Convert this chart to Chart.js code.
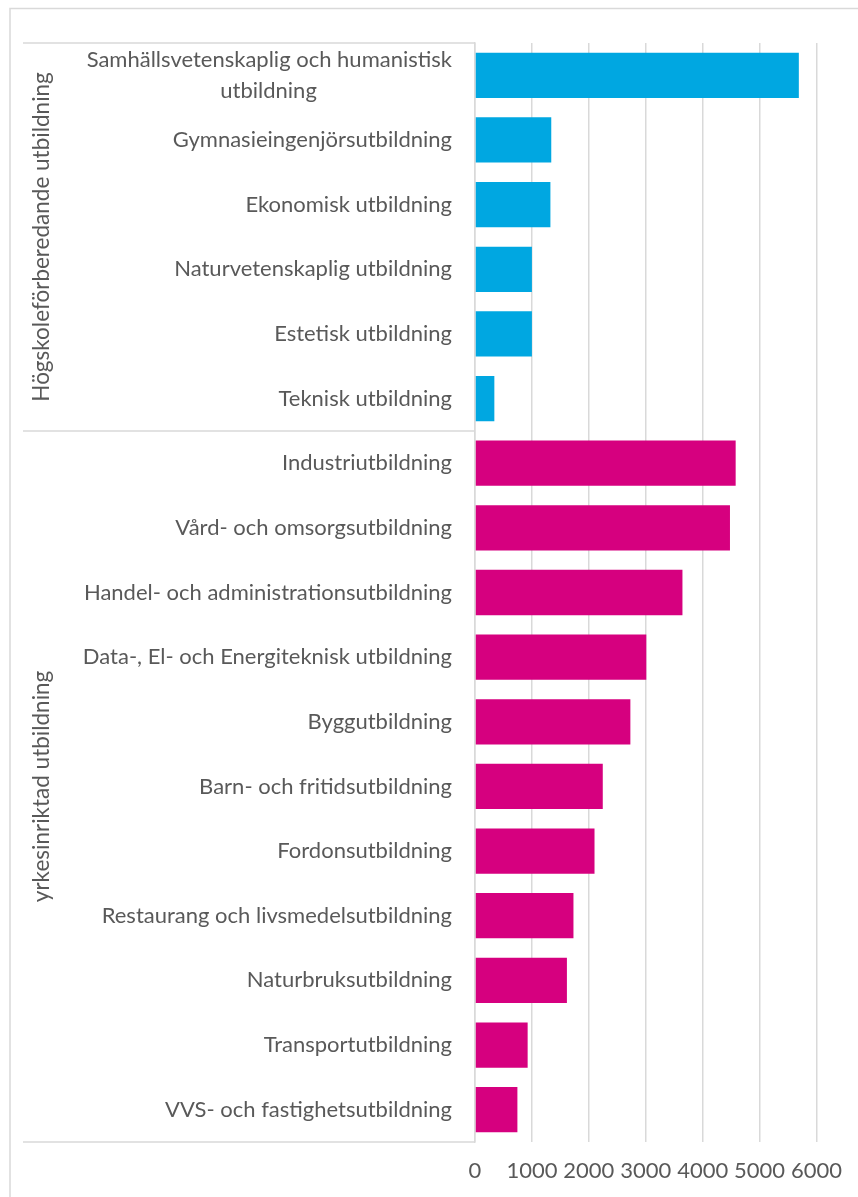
<!DOCTYPE html>
<html>
<head>
<meta charset="utf-8">
<script src="https://cdn.jsdelivr.net/npm/chart.js@4"></script>
<style>
  html, body { margin: 0; padding: 0; background: #fff; }
  #wrap { width: 858px; height: 1197px; position: relative; }
</style>
</head>
<body>
<div id="wrap"><canvas id="chart"></canvas></div>
<script>
// categories, top to bottom
const categories = [
  ['Samhällsvetenskaplig och humanistisk', 'utbildning'],
  'Gymnasieingenjörsutbildning',
  'Ekonomisk utbildning',
  'Naturvetenskaplig utbildning',
  'Estetisk utbildning',
  'Teknisk utbildning',
  'Industriutbildning',
  'Vård- och omsorgsutbildning',
  'Handel- och administrationsutbildning',
  'Data-, El- och Energiteknisk utbildning',
  'Byggutbildning',
  'Barn- och fritidsutbildning',
  'Fordonsutbildning',
  'Restaurang och livsmedelsutbildning',
  'Naturbruksutbildning',
  'Transportutbildning',
  'VVS- och fastighetsutbildning',
];

const values = [5690, 1340, 1325, 1000, 1000, 340, 4580, 4480, 3645, 3010, 2730, 2245, 2100, 1730, 1615, 925, 745];

// group name and how many categories it spans (in order)
const groupNames = ['Högskoleförberedande utbildning', 'yrkesinriktad utbildning'];
const groupSizes = [6, 11];
const groupColors = ['#00A7E1', '#D6007F'];

const xTicks = [0, 1000, 2000, 3000, 4000, 5000, 6000];

const TEXT = '#595959';
const LINE = '#d9d9d9';
const FONT = 'Lato, "Open Sans", sans-serif';
const LABEL_SIZE = 22;

const barColors = [];
groupSizes.forEach((n, g) => { for (let i = 0; i < n; i++) barColors.push(groupColors[g]); });

// multi-line labels: pad shorter lines so they sit centred under the widest one
const _measure = document.createElement('canvas').getContext('2d');
function centreLines(label) {
  if (!Array.isArray(label)) return label;
  _measure.font = LABEL_SIZE + 'px ' + FONT;
  const widths = label.map(s => _measure.measureText(s).width);
  const widest = Math.max(...widths);
  const sp = _measure.measureText(' ').width;
  return label.map((s, i) => s + ' '.repeat(Math.round((widest - widths[i]) / 2 / sp)));
}

// outer frame + multi-level category axis (group lines and rotated group names)
const groupAxis = {
  id: 'groupAxis',
  beforeDraw(chart) {
    const { ctx } = chart;
    ctx.save();
    ctx.strokeStyle = LINE;
    ctx.lineWidth = 1.5;
    ctx.beginPath();
    ctx.moveTo(10, 1197); ctx.lineTo(10, 8.5); ctx.lineTo(858, 8.5);
    ctx.stroke();
    ctx.restore();
  },
  afterDraw(chart) {
    const { ctx, chartArea } = chart;
    const y = chart.scales.y;
    const left = 23;
    ctx.save();
    ctx.strokeStyle = LINE;
    ctx.lineWidth = 1.5;
    // boundaries
    const bounds = [chartArea.top];
    let idx = 0;
    groupSizes.forEach(n => {
      idx += n;
      if (idx < categories.length) {
        bounds.push((y.getPixelForTick(idx - 1) + y.getPixelForTick(idx)) / 2);
      }
    });
    bounds.push(chartArea.bottom);
    ctx.beginPath();
    bounds.forEach(b => { ctx.moveTo(left, b); ctx.lineTo(chartArea.left, b); });
    ctx.stroke();

    // group labels
    ctx.fillStyle = TEXT;
    ctx.font = '22.5px ' + FONT;
    ctx.textAlign = 'center';
    ctx.textBaseline = 'middle';
    for (let g = 0; g < groupNames.length; g++) {
      const cy = (bounds[g] + bounds[g + 1]) / 2;
      ctx.save();
      ctx.translate(42, cy);
      ctx.rotate(-Math.PI / 2);
      ctx.fillText(groupNames[g], 0, 0);
      ctx.restore();
    }
    ctx.restore();
  }
};

new Chart(document.getElementById('chart'), {
  type: 'bar',
  data: {
    labels: categories,
    datasets: [{
      data: values,
      backgroundColor: barColors,
      borderWidth: 0,
      barPercentage: 0.7,
      categoryPercentage: 1.0,
    }],
  },
  options: {
    indexAxis: 'y',
    responsive: true,
    maintainAspectRatio: false,
    animation: false,
    layout: { padding: { top: 43, right: 40, bottom: 0, left: 0 } },
    plugins: {
      legend: { display: false },
      tooltip: { enabled: false },
    },
    scales: {
      x: {
        min: 0,
        max: 6000,
        afterBuildTicks: s => { s.ticks = xTicks.map(v => ({ value: v })); },
        afterFit: s => { s.height = 55; },
        ticks: {
          color: TEXT, font: { family: FONT, size: LABEL_SIZE }, padding: 16, maxRotation: 0,
          callback: v => String(v),
        },
        grid: { color: LINE, lineWidth: 1.5, drawTicks: false },
        border: { display: false },
      },
      y: {
        afterFit: s => { s.width = 475; },
        ticks: {
          color: TEXT,
          font: { family: FONT, size: LABEL_SIZE, lineHeight: 1.38 },
          padding: 23,
          autoSkip: false,
          callback: (v, i) => centreLines(categories[i]),
        },
        grid: { display: false, drawTicks: false },
        border: { display: true, color: LINE, width: 1.5 },
      },
    },
  },
  plugins: [groupAxis],
});
</script>
</body>
</html>
